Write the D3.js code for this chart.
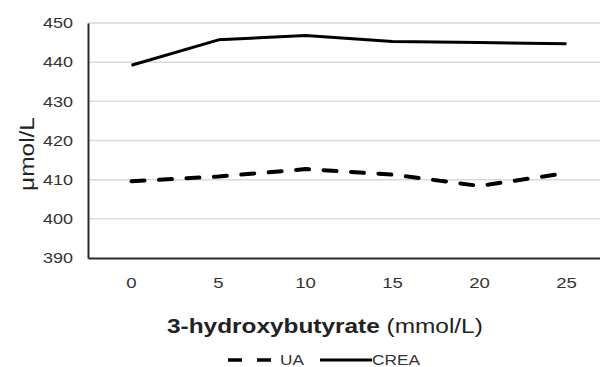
<!DOCTYPE html>
<html>
<head>
<meta charset="utf-8">
<script src="https://cdn.jsdelivr.net/npm/d3@7"></script>
<style>
  html, body { margin: 0; padding: 0; background: #fff; }
  svg { display: block; font-family: "Liberation Sans", Arial, sans-serif; }
</style>
</head>
<body>
<svg id="chart" width="600" height="367"></svg>
<script>
// Concentrations (µmol/L) measured at each 3-hydroxybutyrate level (mmol/L)
const categories = ["0", "5", "10", "15", "20", "25"];
const uaValues   = [409.6, 410.8, 412.7, 411.3, 408.4, 411.7];
const creaValues = [439.2, 445.7, 446.8, 445.3, 445.0, 444.7];
const yTicks     = [390, 400, 410, 420, 430, 440, 450];

const svg = d3.select("#chart");
const plotLeft = 88, plotRight = 610, plotTop = 23, plotBottom = 258;
const FONT = "Liberation Sans, Arial, sans-serif";
const WIDEN = 1.2; // labels are set in a slightly widened face

const x = d3.scaleBand().domain(categories).range([plotLeft, plotRight]);
const y = d3.scaleLinear().domain([390, 450]).range([plotBottom, plotTop]);
const cx = c => x(c) + x.bandwidth() / 2;

// widen a text element horizontally about its anchor x
function widen(sel, f) {
  sel.each(function () {
    const t = d3.select(this);
    const x0 = +(t.attr("x") || 0);
    t.attr("transform", `translate(${x0},0) scale(${f},1) translate(${-x0},0)`);
  });
}

// horizontal gridlines
svg.append("g")
  .selectAll("line")
  .data(yTicks.filter(t => t > 390))
  .join("line")
  .attr("x1", plotLeft).attr("x2", 600)
  .attr("y1", d => y(d)).attr("y2", d => y(d))
  .attr("stroke", "#d9d9d9").attr("stroke-width", 1.5);

// y axis
const yAxis = svg.append("g")
  .attr("transform", `translate(${plotLeft},0)`)
  .call(d3.axisLeft(y).tickValues(yTicks).tickSize(0).tickPadding(15));
yAxis.select(".domain").attr("stroke", "#2a2a2a").attr("stroke-width", 2);
yAxis.selectAll("text").attr("font-size", 15).attr("fill", "#333")
  .attr("font-family", FONT);
widen(yAxis.selectAll("text"), WIDEN);

// x axis
const xAxis = svg.append("g")
  .attr("transform", `translate(0,${plotBottom})`)
  .call(d3.axisBottom(x).tickSize(0).tickPadding(19));
xAxis.select(".domain").attr("stroke", "#2a2a2a").attr("stroke-width", 2);
xAxis.selectAll("text").attr("font-size", 15.5).attr("fill", "#333")
  .attr("font-family", FONT);
widen(xAxis.selectAll("text"), WIDEN);

// series
const line = vals => d3.line()
  .x((d, i) => cx(categories[i]))
  .y(d => y(d))(vals);

svg.append("path")
  .attr("d", line(creaValues))
  .attr("fill", "none").attr("stroke", "#000").attr("stroke-width", 3)
  .attr("stroke-linejoin", "round");

svg.append("path")
  .attr("d", line(uaValues))
  .attr("fill", "none").attr("stroke", "#000").attr("stroke-width", 4)
  .attr("stroke-dasharray", "13,14.5").attr("stroke-linecap", "round")
  .attr("stroke-linejoin", "round");

// y axis title, spanning ~74px along the axis
const yt = svg.append("text")
  .attr("font-size", 20).attr("fill", "#222")
  .attr("text-anchor", "middle")
  .text("μmol/L");
const ytLen = yt.node().getComputedTextLength();
yt.attr("transform", `translate(34,154) rotate(-90) scale(${74 / ytLen},1)`);

// x axis title
const xt = svg.append("text")
  .attr("font-size", 20).attr("fill", "#222");
xt.append("tspan").attr("font-weight", "bold").text("3-hydroxybutyrate");
xt.append("tspan").text(" (mmol/L)");
const xtLen = xt.node().getComputedTextLength();
xt.attr("transform", `translate(167,333) scale(${316 / xtLen},1)`);

// legend
const lg = svg.append("g");
lg.append("line")
  .attr("x1", 228).attr("x2", 272).attr("y1", 360).attr("y2", 360)
  .attr("stroke", "#000").attr("stroke-width", 3.5)
  .attr("stroke-dasharray", "14,15");
lg.append("text").attr("x", 280).attr("y", 365)
  .attr("font-size", 15).attr("fill", "#333").attr("font-family", FONT)
  .text("UA");
lg.append("line")
  .attr("x1", 320).attr("x2", 372).attr("y1", 360).attr("y2", 360)
  .attr("stroke", "#000").attr("stroke-width", 3);
lg.append("text").attr("x", 372).attr("y", 365)
  .attr("font-size", 15).attr("fill", "#333").attr("font-family", FONT)
  .text("CREA");
widen(lg.selectAll("text"), 1.15);
</script>
</body>
</html>
